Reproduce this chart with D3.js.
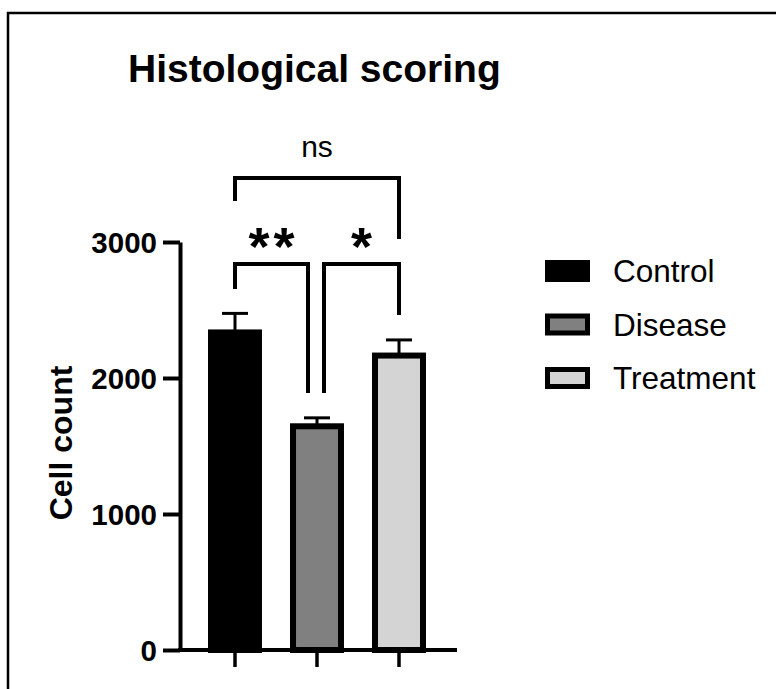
<!DOCTYPE html>
<html>
<head>
<meta charset="utf-8">
<script src="https://cdn.jsdelivr.net/npm/d3@7"></script>
<style>
  html, body { margin: 0; padding: 0; background: #fff; overflow: hidden; }
  svg { display: block; }
  text { font-family: "Liberation Sans", Arial, sans-serif; }
</style>
</head>
<body>
<svg id="chart" width="776" height="689"></svg>
<script>
// ---- data ----
const categories = ["Control", "Disease", "Treatment"];
const means = [2335, 1645, 2165];
const sems = [140, 62, 115];
const colors = ["#000000", "#808080", "#d4d4d4"];
const yTicks = [0, 1000, 2000, 3000];
const title = "Histological scoring";
const yLabel = "Cell count";
// significance comparisons (data units for bracket level and leg ends)
const compFrom = [0, 1, 0];
const compTo = [1, 2, 2];
const compLabels = ["**", "*", "ns"];
const compLevel = [2838, 2838, 3471];
const compLegLeft = [2654, 1890, 3301];
const compLegRight = [1890, 2463, 3022];

// ---- layout ----
const svg = d3.select("#chart");
const font = '"Liberation Sans", Arial, sans-serif';

// outer frame: only top and left edges are visible in the picture
svg.append("path").attr("d", "M8,700 L8,13 L790,13")
  .attr("fill", "none").attr("stroke", "#000").attr("stroke-width", 2.5);

const y = d3.scaleLinear().domain([0, 3000]).range([650, 242]);
const x = d3.scaleBand().domain(categories).range([194, 440]).paddingInner(0.415).paddingOuter(0.2075);

// title
svg.append("text").attr("x", 128).attr("y", 82)
  .attr("font-size", 39).attr("font-weight", "bold").attr("fill", "#000").text(title);

// bars
const g = svg.append("g");
categories.forEach((c, i) => {
  const bx = x(c), bw = x.bandwidth();
  const cx = bx + bw / 2;
  g.append("line").attr("x1", cx).attr("x2", cx)
    .attr("y1", y(means[i])).attr("y2", y(means[i] + sems[i]))
    .attr("stroke", "#000").attr("stroke-width", 3);
  g.append("line").attr("x1", cx - 13).attr("x2", cx + 13)
    .attr("y1", y(means[i] + sems[i])).attr("y2", y(means[i] + sems[i]))
    .attr("stroke", "#000").attr("stroke-width", 3);
  g.append("rect").attr("x", bx).attr("width", bw)
    .attr("y", y(means[i])).attr("height", y(0) - y(means[i]))
    .attr("fill", colors[i]).attr("stroke", "#000").attr("stroke-width", 6);
});

// y axis
const yAxis = d3.axisLeft(y).tickValues(yTicks).tickFormat(d3.format("d"))
  .tickSize(17).tickPadding(6).tickSizeOuter(0);
const ya = svg.append("g").attr("transform", "translate(180,0)").call(yAxis);
ya.select(".domain").attr("stroke-width", 4).attr("stroke", "#000");
ya.selectAll(".tick line").attr("stroke-width", 4).attr("stroke", "#000");
ya.selectAll(".tick text").attr("font-family", font).attr("font-size", 29.5)
  .attr("font-weight", "bold").attr("fill", "#000").attr("dy", "0.36em");

// x axis
const xAxis = d3.axisBottom(x).tickSize(17).tickFormat("").tickSizeOuter(0);
const xa = svg.append("g").attr("transform", "translate(0,650)").call(xAxis);
xa.select(".domain").remove();
xa.append("line").attr("x1", 178).attr("x2", 457).attr("y1", 0).attr("y2", 0)
  .attr("stroke", "#000").attr("stroke-width", 4);
xa.selectAll(".tick line").attr("stroke-width", 3.5).attr("stroke", "#000");

// y label
svg.append("text").attr("transform", "translate(72,443) rotate(-90)")
  .attr("text-anchor", "middle").attr("font-size", 32).attr("font-weight", "bold")
  .attr("fill", "#000").text(yLabel);

// significance brackets
compLabels.forEach((lab, k) => {
  const x1 = x(categories[compFrom[k]]) + x.bandwidth() / 2;
  const x2 = x(categories[compTo[k]]) + x.bandwidth() / 2;
  const yl = y(compLevel[k]);
  let xa1 = x1, xa2 = x2;
  if (lab !== "ns") {
    if (compFrom[k] === 1) xa1 = x1 + 7;
    if (compTo[k] === 1) xa2 = x2 - 9;
  }
  const p = d3.path();
  p.moveTo(xa1, y(compLegLeft[k]));
  p.lineTo(xa1, yl);
  p.lineTo(xa2, yl);
  p.lineTo(xa2, y(compLegRight[k]));
  svg.append("path").attr("d", p.toString()).attr("fill", "none")
    .attr("stroke", "#000").attr("stroke-width", 4);
  const mid = (xa1 + xa2) / 2;
  if (lab === "ns") {
    svg.append("text").attr("x", mid).attr("y", yl - 21).attr("text-anchor", "middle")
      .attr("font-size", 30).attr("fill", "#000").text(lab);
  } else {
    const chars = lab.split("");
    chars.forEach((ch, j) => {
      svg.append("text").attr("x", mid + (j - (chars.length - 1) / 2) * 25).attr("y", yl + 1)
        .attr("text-anchor", "middle").attr("font-size", 54).attr("font-weight", "bold")
        .attr("fill", "#000").text(ch);
    });
  }
});

// legend
const lg = svg.append("g");
categories.forEach((c, i) => {
  const ly = 282 + i * 53.5;
  lg.append("rect").attr("x", 547.5).attr("y", ly - 19.5).attr("width", 40).attr("height", 17)
    .attr("fill", colors[i]).attr("stroke", "#000").attr("stroke-width", 5);
  lg.append("text").attr("x", 613).attr("y", ly).attr("font-size", 31.5)
    .attr("fill", "#000").text(c);
});
</script>
</body>
</html>
